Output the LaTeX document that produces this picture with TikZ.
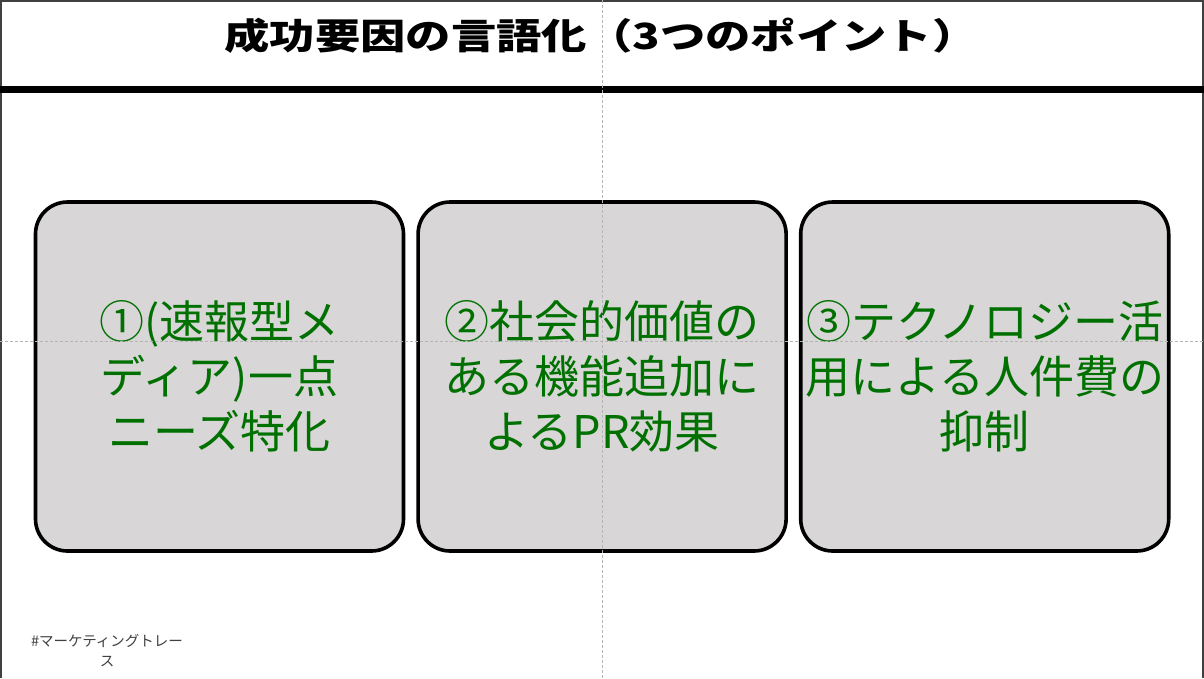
\documentclass[tikz,border=0pt]{standalone}
\usepackage{fontspec}
\usepackage{tikz}
\usetikzlibrary{positioning}
\setmainfont{Noto Sans CJK JP}
\newfontfamily\jp{Noto Sans CJK JP}
\newfontfamily\jptitle[FakeStretch=1.26]{Noto Sans CJK JP}
\definecolor{cardgray}{HTML}{D8D6D7}
\definecolor{pointgreen}{HTML}{007000}
\definecolor{framegray}{HTML}{404040}
\definecolor{guidegray}{HTML}{B4B4B4}

\begin{document}
\begin{tikzpicture}[x=1pt,y=-1pt,
 node distance=11pt,
 every node/.style={align=center,inner sep=0pt},
 card/.style={draw=black,line width=3.6pt,rounded corners=32pt,fill=cardgray,
   minimum width=368pt,minimum height=349pt,text=pointgreen,
   font=\jp\fontsize{45}{55}\selectfont},
 guide/.style={draw=guidegray,line width=.8pt,dash pattern=on 3pt off 2pt}]
 \useasboundingbox[fill=white] (0,0) rectangle (1204,678);
 % frame and title bar
 \draw[framegray,line width=2pt] (1,678) -- (1,1) -- (1203,1) -- (1203,678);
 \draw[line width=7pt] (0,89.5) -- (1204,89.5);
 \node[font=\jptitle\bfseries\fontsize{36}{40}\selectfont] (t) at (601,36) {成功要因の言語化（3つのポイント）};
 % three points
 \node[card] (p1) at (219.5,376.5) {①(速報型メ\\ディア)一点\\ニーズ特化};
 \node[card,right=of p1] (p2) {②社会的価値の\\ある機能追加に\\よるPR効果};
 \node[card,right=of p2] (p3) {③テクノロジー活\\用による人件費の\\抑制};
 \node[text=framegray,font=\jp\fontsize{14.5}{20}\selectfont] (tag) at (107,651) {\#マーケティングトレー\\ス};
 % guides
 \draw[guide] (602,0) -- (602,678);
 \draw[guide] (0,341) -- (1204,341);
\end{tikzpicture}
\end{document}
